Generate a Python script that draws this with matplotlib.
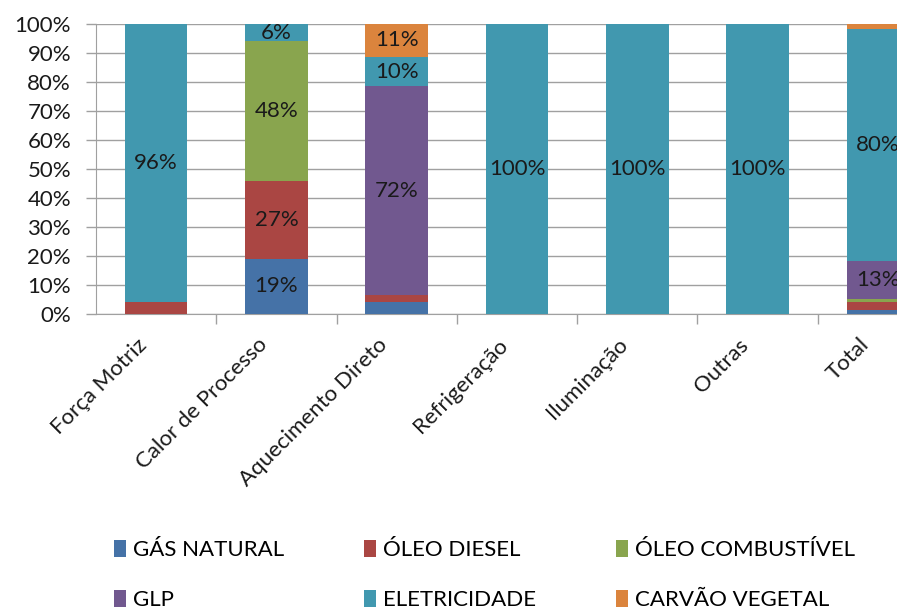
import numpy as np
import matplotlib.pyplot as plt
from matplotlib.ticker import PercentFormatter
from matplotlib.transforms import ScaledTranslation

plt.rcParams['font.family'] = ['Lato', 'DejaVu Sans']

categories = ['Força Motriz', 'Calor de Processo', 'Aquecimento Direto',
              'Refrigeração', 'Iluminação', 'Outras', 'Total']
series = ['GÁS NATURAL', 'ÓLEO DIESEL', 'ÓLEO COMBUSTÍVEL',
          'GLP', 'ELETRICIDADE', 'CARVÃO VEGETAL']

gas_natural = [0, 19, 4, 0, 0, 0, 1.4]
oleo_diesel = [4, 27, 2.5, 0, 0, 0, 2.6]
oleo_combustivel = [0, 48, 0, 0, 0, 0, 1.3]
glp = [0, 0, 72, 0, 0, 0, 13.1]
eletricidade = [96, 6, 10.2, 100, 100, 100, 79.8]
carvao_vegetal = [0, 0, 11.3, 0, 0, 0, 1.8]

colors = ['#4572A7', '#AA4643', '#89A54E', '#71588F', '#4198AF', '#DB843D']

data = [gas_natural, oleo_diesel, oleo_combustivel, glp, eletricidade, carvao_vegetal]

fig = plt.figure(figsize=(8.97, 6.09), dpi=100)
ax = fig.add_axes([96 / 897, 1 - 314 / 609, (938 - 96) / 897, (314 - 24) / 609])

x = np.arange(len(categories))
bottom = np.zeros(len(categories))
handles = []
for name, vals, c in zip(series, data, colors):
    vals = np.array(vals, dtype=float)
    bars = ax.bar(x, vals, 0.52, bottom=bottom, color=c, label=name, zorder=3, clip_on=False)
    handles.append(bars)
    for xi, v, b in zip(x, vals, bottom):
        if v >= 6:
            ax.text(xi, b + v / 2, f'{v:.0f}%', ha='center', va='center',
                    fontsize=16, color='#1a1a1a', zorder=4, clip_on=False)
    bottom += vals

ax.set_xlim(-0.5, len(categories) - 0.5)
ax.set_ylim(0, 100)
ax.set_yticks(np.arange(0, 101, 10))
ax.yaxis.set_major_formatter(PercentFormatter(decimals=0))
ax.grid(axis='y', color='#a0a0a0', linewidth=1, zorder=0)
for s in ['top', 'right']:
    ax.spines[s].set_visible(False)
ax.spines['left'].set_color('#a0a0a0')
ax.spines['bottom'].set_color('#a0a0a0')
ax.tick_params(axis='y', colors='#a0a0a0', labelcolor='#1a1a1a', labelsize=16,
               length=7, width=1, pad=11)
ax.set_xticks(x)
ax.set_xticklabels(categories, rotation=45, ha='right', va='center',
                   rotation_mode='anchor', fontsize=16, color='#1a1a1a')
ax.tick_params(axis='x', length=0, pad=20)
shift = ScaledTranslation(-9 / 72, 0, fig.dpi_scale_trans)
for lbl in ax.get_xticklabels():
    lbl.set_transform(lbl.get_transform() + shift)
ax.set_xticks(np.arange(0.5, len(categories) - 0.5, 1), minor=True)
ax.tick_params(axis='x', which='minor', length=7, colors='#a0a0a0', width=1)

order = [0, 3, 1, 4, 2, 5]
fig.legend([handles[i] for i in order], [series[i] for i in order],
           loc='upper left', bbox_to_anchor=(94 / 897, 1 - 520 / 609),
           ncol=3, frameon=False, fontsize=16, handlelength=0.55, handleheight=0.8,
           handletextpad=0.3, columnspacing=3.6, labelspacing=1.35)

fig.savefig('out.png', dpi=100)
